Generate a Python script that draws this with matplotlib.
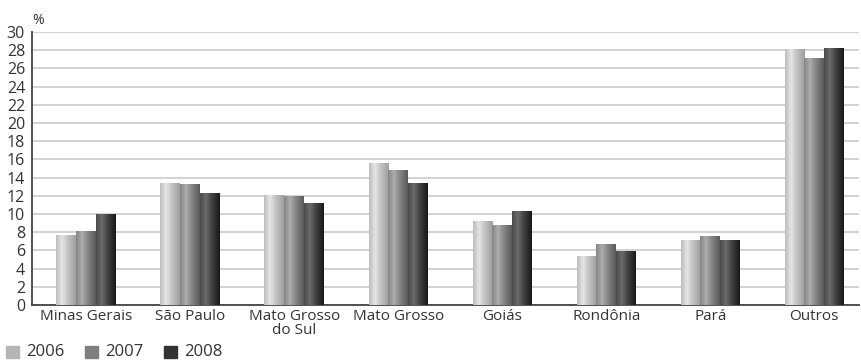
import numpy as np
import matplotlib
matplotlib.use("Agg")
import matplotlib.pyplot as plt
from matplotlib.patches import Rectangle

plt.rcParams['font.family'] = ['Open Sans', 'DejaVu Sans']

categories = ["Minas Gerais", "São Paulo", "Mato Grosso\ndo Sul", "Mato Grosso",
              "Goiás", "Rondônia", "Pará", "Outros"]
years = ["2006", "2007", "2008"]
v2006 = [7.6, 13.4, 12.0, 15.5, 9.2, 5.3, 7.1, 28.1]
v2007 = [8.1, 13.2, 11.9, 14.8, 8.7, 6.6, 7.5, 27.1]
v2008 = [10.0, 12.3, 11.1, 13.3, 10.3, 5.9, 7.1, 28.2]
series = [v2006, v2007, v2008]

# cylinder-ish shading: (left, highlight, right) grey levels
shades = [(0.74, 0.90, 0.62), (0.52, 0.68, 0.36), (0.30, 0.42, 0.10)]
legend_cols = ["#b5b5b5", "#808080", "#333333"]

fig = plt.figure(figsize=(8.61, 3.62), dpi=100)
ax = fig.add_axes([32/861, 57/362, 827/861, 273/362])

x = np.arange(len(categories))
w = 0.19
pos = np.linspace(0, 1, 60)
for k, vals in enumerate(series):
    l, h, r = shades[k]
    g = np.interp(pos, [0, 0.3, 0.55, 1], [l, h, (h + r) / 2 + 0.02, r])
    img = np.dstack([g, g, g])
    for i, v in enumerate(vals):
        x0 = x[i] + (k - 1) * w - w / 2
        ax.imshow(img, extent=[x0, x0 + w, 0, v], aspect='auto', zorder=3,
                  interpolation='bilinear')

ax.set_xlim(-0.52, 7.43)
ax.set_ylim(0, 30)
ax.set_yticks(range(0, 31, 2))
ax.set_xticks(x)
ax.set_xticklabels(categories, fontsize=11, color="#333333", linespacing=0.85)
ax.tick_params(axis='y', labelsize=11.5, colors="#333333", length=0, pad=5)
ax.tick_params(axis='x', length=0, pad=3)
ax.yaxis.grid(True, color="#cfcfcf", linewidth=1.3)
ax.set_axisbelow(True)
for s in ["top", "right"]:
    ax.spines[s].set_visible(False)
ax.spines["left"].set_color("#444444")
ax.spines["bottom"].set_color("#444444")
ax.spines["left"].set_linewidth(1.3)
ax.spines["bottom"].set_linewidth(1.3)

fig.text(32/861, 1 - 21/362, "%", fontsize=10, color="#333333", va='center')

# legend along bottom-left
lx = [6, 85, 164]
for k, yr in enumerate(years):
    fig.patches.append(Rectangle((lx[k]/861, 4/362), 13/861, 12/362,
                                 transform=fig.transFigure, color=legend_cols[k]))
    fig.text((lx[k] + 20)/861, 10/362, yr, fontsize=12, color="#333333", va='center')

fig.savefig("out.png", dpi=100)
